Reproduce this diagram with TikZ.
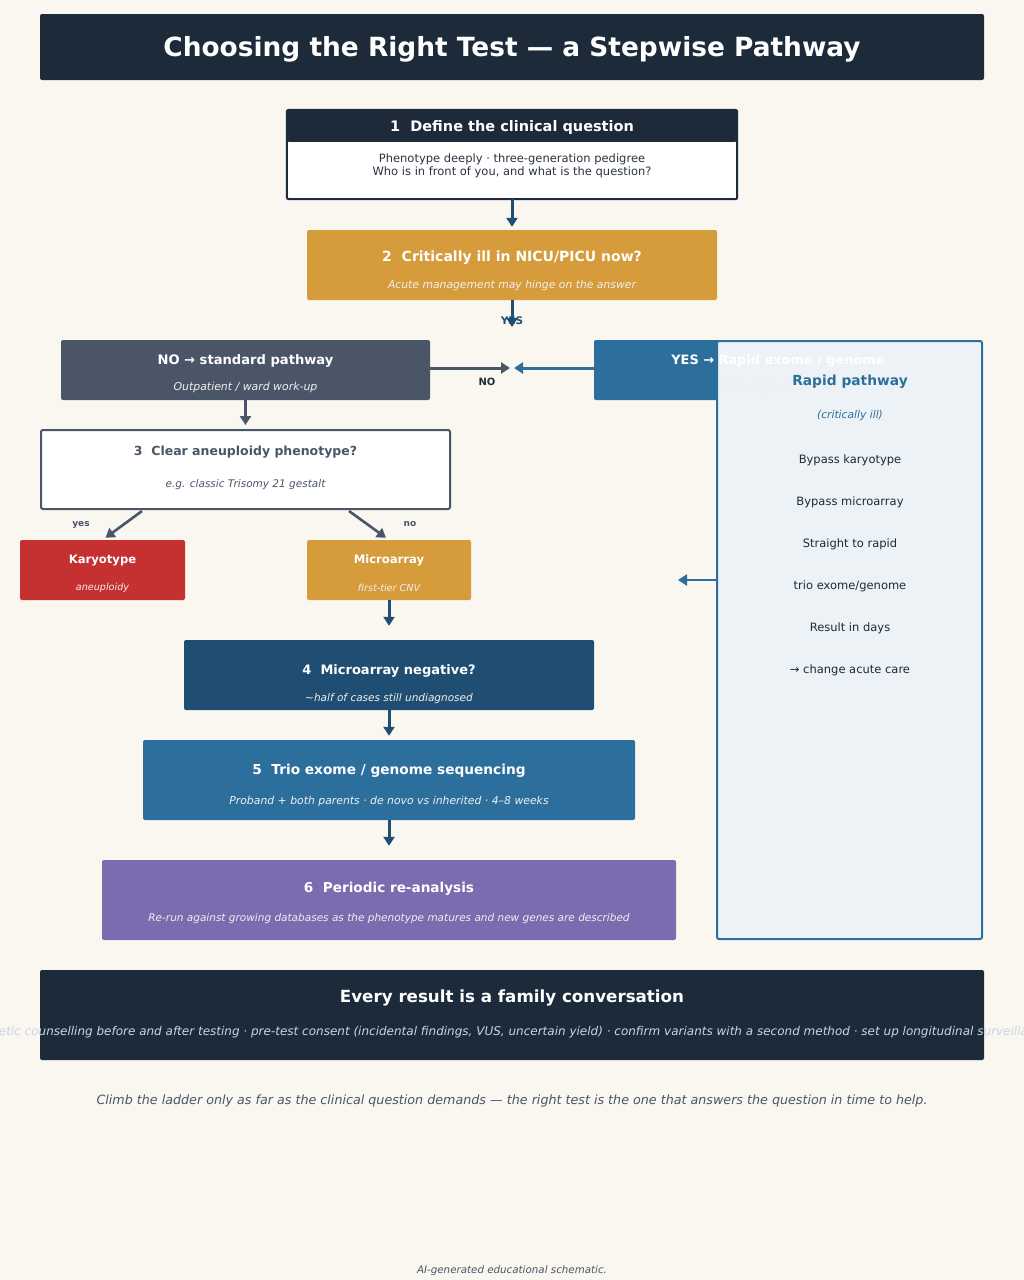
\documentclass[tikz,border=0pt]{standalone}
\usepackage{fontspec}
\setmainfont{DejaVu Sans}
\usetikzlibrary{arrows.meta}
\definecolor{bg}{HTML}{FAF7F0}
\definecolor{dark}{HTML}{1C2A3A}
\definecolor{slate}{HTML}{4A5568}
\definecolor{gold}{HTML}{D69B3A}
\definecolor{blu}{HTML}{2C6E9C}
\definecolor{navy}{HTML}{1F4E72}
\definecolor{redd}{HTML}{C53030}
\definecolor{purp}{HTML}{7B6BAF}
\definecolor{pnl}{HTML}{EDF2F6}
\definecolor{body}{HTML}{2B3340}
\definecolor{faint}{HTML}{CBD5E0}
\newcommand\fsz[1]{\fontsize{#1}{1.25\dimexpr#1pt\relax}\selectfont}
\tikzset{
  box/.style={rectangle, rounded corners=2pt, inner sep=0pt},
  tx/.style={inner sep=0pt, yshift=-1.5pt},
  hd/.style={tx, font=\fsz{#1}\bfseries, text=white},
  sb/.style={tx, font=\fsz{#1}\itshape, text=white!94!black},
  arr/.style={line width=3pt, -{Triangle[length=9pt,width=11pt]}},
}
\begin{document}
\begin{tikzpicture}[x=1pt,y=-1pt]
\useasboundingbox (0,0) rectangle (1024,1280);
\fill[bg] (0,0) rectangle (1024,1280);

% title
\node[box, fill=dark, minimum width=944pt, minimum height=66pt] (title) at (512,47) {};
\node[hd=26.4, yshift=-1pt] (titletext) at (512,47) {Choosing the Right Test — a Stepwise Pathway};

% box 1
\node[box, fill=white, minimum width=450pt, minimum height=89pt] (b1) at (512,154.5) {};
\fill[dark, rounded corners=2pt] (b1.north west) rectangle ([yshift=-32pt]b1.north east);
\draw[dark, line width=2pt, rounded corners=2pt] (b1.north west) rectangle (b1.south east);
\node[hd=14.5] (b1h) at (512,126) {1\hspace{0.7em}Define the clinical question};
\node[tx, font=\fsz{11.5}, text=body, align=center] (b1t) at (512,164.5)
  {Phenotype deeply · three-generation pedigree\\[-1.5pt]Who is in front of you, and what is the question?};

% box 2
\node[box, fill=gold, minimum width=410pt, minimum height=70pt] (b2) at (512,265) {};
\node[hd=14] (b2h) at (512,256) {2\hspace{0.7em}Critically ill in NICU/PICU now?};
\node[sb=10.8] (b2s) at (512,284) {Acute management may hinge on the answer};

\draw[arr, navy] (b1.south) -- ([yshift=3pt]b2.north);
\coordinate (split) at (512,327);
\draw[arr, navy] (b2.south) -- (split);
\node[tx, font=\fsz{10.5}\bfseries, text=navy] (yeslbl) at (512,319.5) {YES};

% NO box
\node[box, fill=slate, minimum width=369pt, minimum height=60pt] (no) at (245.5,370) {};
\node[hd=13.1] (noh) at (245.5,359) {NO → standard pathway};
\node[sb=10.9] (nos) at (245.5,386) {Outpatient / ward work-up};

% YES box (rect)
\node[box, fill=blu, minimum width=368pt, minimum height=60pt] (yes) at (778,370) {};

% rapid panel
\node[box, fill=pnl, draw=blu, line width=2pt, minimum width=265pt, minimum height=598pt] (panel) at (849.5,640) {};

% YES texts on top
\node[hd=12.9] (yesh) at (778,359) {YES → Rapid exome / genome};
\node[sb=10.9] (yess) at (778,386) {Trio · days, not weeks};

\node[tx, font=\fsz{13.8}\bfseries, text=blu] (ph) at (850,380) {Rapid pathway};
\node[tx, font=\fsz{10.7}\itshape, text=blu] (ps) at (850,414) {(critically ill)};
\node[tx, font=\fsz{11.5}, text=dark] (pi1) at (850,459) {Bypass karyotype};
\node[tx, font=\fsz{11.5}, text=dark] (pi2) at (850,501) {Bypass microarray};
\node[tx, font=\fsz{11.5}, text=dark] (pi3) at (850,543) {Straight to rapid};
\node[tx, font=\fsz{11.5}, text=dark] (pi4) at (850,585) {trio exome/genome};
\node[tx, font=\fsz{11.5}, text=dark] (pi5) at (850,627) {Result in days};
\node[tx, font=\fsz{11.5}, text=dark] (pi6) at (850,669) {→ change acute care};

\coordinate (noend) at (510,368);
\coordinate (yesend) at (514,368);
\draw[arr, slate] (no.east |- 0,368) -- (noend);
\draw[arr, blu] (yes.west |- 0,368) -- (yesend);
\node[tx, font=\fsz{10}\bfseries, text=dark] (nolbl) at (487,380) {NO};

% box 3
\node[box, fill=white, draw=slate, line width=2pt, minimum width=409pt, minimum height=79pt] (b3) at (245.5,469.5) {};
\node[tx, font=\fsz{12.5}\bfseries, text=slate] (b3h) at (245.5,451) {3\hspace{0.7em}Clear aneuploidy phenotype?};
\node[tx, font=\fsz{10.5}\itshape, text=slate] (b3s) at (245.5,483.5) {e.g. classic Trisomy 21 gestalt};
\draw[arr, slate] (no.south) -- ([yshift=4pt]b3.north);

% karyotype / microarray
\node[box, fill=redd, minimum width=165pt, minimum height=60pt] (kar) at (102.5,570) {};
\node[hd=11.6] (karh) at (102.5,559) {Karyotype};
\node[sb=9.6] (kars) at (102.5,586) {aneuploidy};
\node[box, fill=gold, minimum width=164pt, minimum height=60pt] (mic) at (389,570) {};
\node[hd=11.6] (mich) at (389,559) {Microarray};
\node[sb=9.6] (mics) at (389,586) {first-tier CNV};

\coordinate (yst) at (142,511);
\coordinate (nst) at (349,511);
\draw[arr, slate, line width=2.6pt] (yst) -- ([xshift=3pt,yshift=2pt]kar.north);
\draw[arr, slate, line width=2.6pt] (nst) -- ([xshift=-3pt,yshift=2pt]mic.north);
\node[tx, font=\fsz{9}\bfseries, text=slate] (ylbl) at (81,523) {yes};
\node[tx, font=\fsz{9}\bfseries, text=slate] (nlbl) at (410,523) {no};

% box 4
\node[box, fill=navy, minimum width=410pt, minimum height=70pt] (b4) at (389,675) {};
\node[hd=13] (b4h) at (389,669) {4\hspace{0.7em}Microarray negative?};
\node[sb=10.5] (b4s) at (389,697) {\textasciitilde half of cases still undiagnosed};
\draw[arr, navy] (mic.south) -- ([yshift=14pt]b4.north);

% box 5
\node[box, fill=blu, minimum width=492pt, minimum height=80pt] (b5) at (389,780) {};
\node[hd=13.7] (b5h) at (389,769) {5\hspace{0.7em}Trio exome / genome sequencing};
\node[sb=10.85] (b5s) at (389,800) {Proband + both parents · de novo vs inherited · 4–8 weeks};
\draw[arr, navy] (b4.south) -- ([yshift=4pt]b5.north);

% box 6
\node[box, fill=purp, minimum width=574pt, minimum height=80pt] (b6) at (389,900) {};
\node[hd=13.6] (b6h) at (389,887) {6\hspace{0.7em}Periodic re-analysis};
\node[sb=10.5] (b6s) at (389,917) {Re-run against growing databases as the phenotype matures and new genes are described};
\draw[arr, navy] (b5.south) -- ([yshift=14pt]b6.north);

% panel arrow
\coordinate (pend) at (678,580);
\draw[arr, blu, line width=2.4pt] (panel.west |- 0,580) -- (pend);

% bottom banner
\node[box, fill=dark, minimum width=944pt, minimum height=90pt] (ban) at (512,1015) {};
\node[hd=16.7] (banh) at (512,996) {Every result is a family conversation};
\node[tx, font=\fsz{12}\itshape, text=faint] (bans) at (512,1031) {Genetic counselling before and after testing · pre-test consent (incidental findings, VUS, uncertain yield) · confirm variants with a second method · set up longitudinal surveillance};

\node[tx, font=\fsz{12.7}\itshape, text=slate] (foot) at (512,1099) {Climb the ladder only as far as the clinical question demands — the right test is the one that answers the question in time to help.};
\node[tx, font=\fsz{10.3}\itshape, text=slate] (ai) at (512,1269.5) {AI-generated educational schematic.};
\end{tikzpicture}
\end{document}
